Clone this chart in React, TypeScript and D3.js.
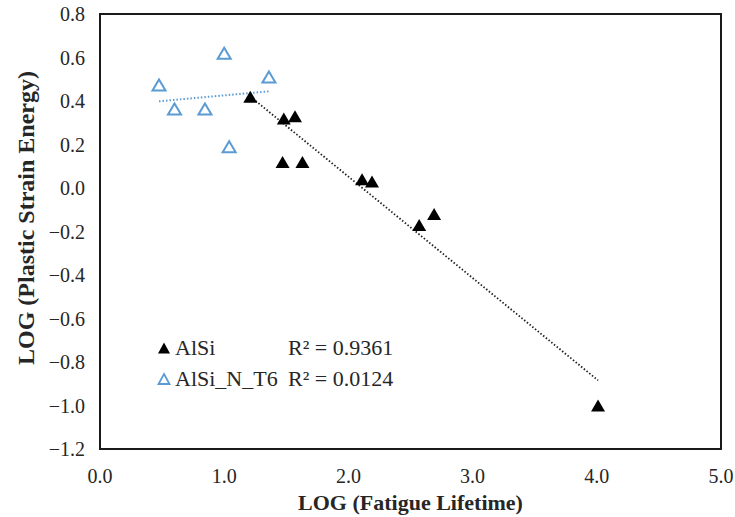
import React from "react";
import * as d3 from "d3";

const alsiX = [1.21, 1.48, 1.57, 1.47, 1.63, 2.11, 2.19, 2.57, 2.69, 4.01];
const alsiY = [0.42, 0.32, 0.33, 0.12, 0.12, 0.04, 0.03, -0.17, -0.12, -1.0];
const t6X = [0.475, 0.6, 0.845, 1.0, 1.04, 1.36];
const t6Y = [0.474, 0.363, 0.363, 0.62, 0.19, 0.51];
const seriesNames = ["AlSi", "AlSi_N_T6"];
const r2Labels = ["R² = 0.9361", "R² = 0.0124"];
const xTicks = [0, 1, 2, 3, 4, 5];
const yTicks = [0.8, 0.6, 0.4, 0.2, 0.0, -0.2, -0.4, -0.6, -0.8, -1.0, -1.2];
const xTitle = "LOG (Fatigue Lifetime)";
const yTitle = "LOG (Plastic Strain Energy)";

const W = 735, H = 517;
const FONT = "'Liberation Serif', 'Times New Roman', serif";
const BLUE = "#5B9BD5";
const TXT = "#262626";

function fit(xs: number[], ys: number[]) {
  const mx = d3.mean(xs)!, my = d3.mean(ys)!;
  let sxy = 0, sxx = 0;
  xs.forEach((x, i) => { sxy += (x - mx) * (ys[i] - my); sxx += (x - mx) ** 2; });
  const b = sxy / sxx, a = my - b * mx;
  const x0 = d3.min(xs)!, x1 = d3.max(xs)!;
  return [[x0, a + b * x0], [x1, a + b * x1]];
}

function tri(cx: number, cy: number, w: number, h: number) {
  return `M${cx},${cy - h / 2}L${cx + w / 2},${cy + h / 2}L${cx - w / 2},${cy + h / 2}Z`;
}

export default function App() {
  const xs = d3.scaleLinear().domain([0, 5]).range([100, 721]);
  const ys = d3.scaleLinear().domain([-1.2, 0.8]).range([449, 14]);
  const line = d3.line<number[]>().x(d => xs(d[0])).y(d => ys(d[1]));
  const fitA = fit(alsiX, alsiY);
  const fitB = fit(t6X, t6Y);
  const fmt = d3.format(".1f");
  return (
    <svg width={W} height={H} style={{ position: "absolute", left: 0, top: 0, display: "block", fontFamily: FONT, background: "white" }}>
      <rect x={xs(0)} y={ys(0.8)} width={xs(5) - xs(0)} height={ys(-1.2) - ys(0.8)} fill="white" stroke="#1a1a1a" strokeWidth={2} />
      {yTicks.map(t => (
        <text key={t} x={85} y={ys(t)} dy="0.35em" textAnchor="end" fontSize={20} fill={TXT}>{fmt(t)}</text>
      ))}
      {xTicks.map(t => (
        <text key={t} x={xs(t)} y={476} dy="0.35em" textAnchor="middle" fontSize={20} fill={TXT}>{fmt(t)}</text>
      ))}
      <text x={(xs(0) + xs(5)) / 2} y={510} textAnchor="middle" fontSize={22} fontWeight="bold" fill={TXT}>{xTitle}</text>
      <text transform={`translate(34,218) rotate(-90)`} textAnchor="middle" fontSize={24} fontWeight="bold" fill={TXT}>{yTitle}</text>
      <path d={line(fitB as any)!} fill="none" stroke={BLUE} strokeWidth={2} strokeDasharray="1.5 2" />
      <path d={line(fitA as any)!} fill="none" stroke="#222" strokeWidth={1.8} strokeDasharray="1.5 2" />
      {t6X.map((v, i) => (
        <path key={"b" + i} d={tri(xs(v), ys(t6Y[i]), 13, 11)} fill="white" stroke={BLUE} strokeWidth={2} />
      ))}
      {alsiX.map((v, i) => (
        <path key={"a" + i} d={tri(xs(v), ys(alsiY[i]), 14, 12)} fill="#000" />
      ))}
      <g fontSize={22} fill={TXT}>
        <path d={tri(164, 348, 12, 11)} fill="#000" />
        <text x={175} y={355}>{seriesNames[0]}</text>
        <text x={288} y={355}>{r2Labels[0]}</text>
        <path d={tri(164, 379, 11, 10)} fill="white" stroke={BLUE} strokeWidth={1.8} />
        <text x={175} y={386}>{seriesNames[1]}</text>
        <text x={288} y={386}>{r2Labels[1]}</text>
      </g>
    </svg>
  );
}
